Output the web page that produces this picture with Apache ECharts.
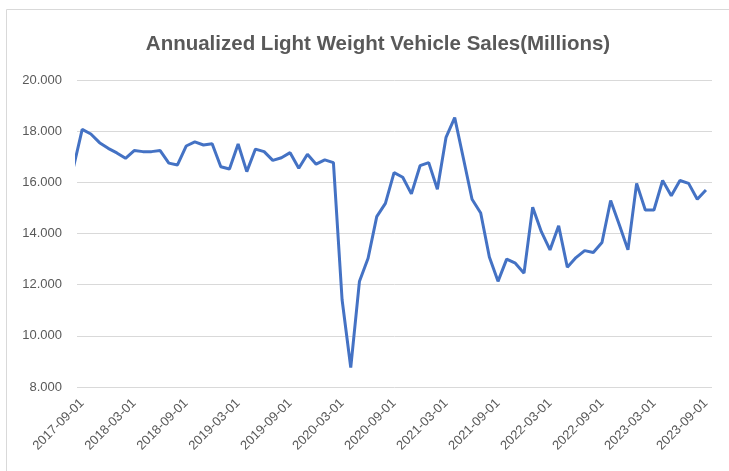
<!DOCTYPE html>
<html>
    <head>
        <title>Annualized Light Weight Vehicle Sales</title>
        <meta charset="UTF-8">
        <script src="https://cdn.jsdelivr.net/npm/echarts@6/dist/echarts.min.js"></script>
        <style>
            html, body { margin: 0; padding: 0; background: #fff; }
        </style>
    </head>
    <body>
        <div id="chart" style="width: 729px; height: 471px;"></div>
        <script>
            // monthly dates, 2017-08 .. 2023-09
            const months = [
                '2017-08-01', '2017-09-01', '2017-10-01', '2017-11-01', '2017-12-01',
                '2018-01-01', '2018-02-01', '2018-03-01', '2018-04-01', '2018-05-01', '2018-06-01',
                '2018-07-01', '2018-08-01', '2018-09-01', '2018-10-01', '2018-11-01', '2018-12-01',
                '2019-01-01', '2019-02-01', '2019-03-01', '2019-04-01', '2019-05-01', '2019-06-01',
                '2019-07-01', '2019-08-01', '2019-09-01', '2019-10-01', '2019-11-01', '2019-12-01',
                '2020-01-01', '2020-02-01', '2020-03-01', '2020-04-01', '2020-05-01', '2020-06-01',
                '2020-07-01', '2020-08-01', '2020-09-01', '2020-10-01', '2020-11-01', '2020-12-01',
                '2021-01-01', '2021-02-01', '2021-03-01', '2021-04-01', '2021-05-01', '2021-06-01',
                '2021-07-01', '2021-08-01', '2021-09-01', '2021-10-01', '2021-11-01', '2021-12-01',
                '2022-01-01', '2022-02-01', '2022-03-01', '2022-04-01', '2022-05-01', '2022-06-01',
                '2022-07-01', '2022-08-01', '2022-09-01', '2022-10-01', '2022-11-01', '2022-12-01',
                '2023-01-01', '2023-02-01', '2023-03-01', '2023-04-01', '2023-05-01', '2023-06-01',
                '2023-07-01', '2023-08-01', '2023-09-01'
            ];
            // millions of vehicles, annualized
            const sales = [
                16.6, 18.07, 17.89, 17.55, 17.33,
                17.15, 16.94, 17.24, 17.2, 17.2, 17.24,
                16.75, 16.68, 17.42, 17.58, 17.46, 17.51,
                16.61, 16.52, 17.5, 16.42, 17.3, 17.2,
                16.86, 16.96, 17.16, 16.55, 17.1, 16.71,
                16.88, 16.77, 11.41, 8.76, 12.12, 13.03,
                14.66, 15.18, 16.38, 16.2, 15.55, 16.65,
                16.77, 15.73, 17.76, 18.53, 16.94, 15.34,
                14.8, 13.08, 12.13, 13.0, 12.84, 12.45,
                15.03, 14.07, 13.36, 14.3, 12.68, 13.06,
                13.33, 13.26, 13.65, 15.29, 14.34, 13.36,
                15.96, 14.92, 14.92, 16.07, 15.48, 16.07,
                15.96, 15.34, 15.7
            ];
            // every sixth month gets a label (March / September)
            const labelIdx = months.map((m, i) => i).filter(i => /-(03|09)-/.test(months[i]));

            const font = 'Liberation Sans';
            const chart = echarts.init(document.getElementById('chart'));
            chart.setOption({
                animation: false,
                title: {
                    text: 'Annualized Light Weight Vehicle Sales(Millions)',
                    left: 373,
                    textAlign: 'center',
                    top: 29,
                    textStyle: { fontFamily: font, fontSize: 20.5, fontWeight: 'bold', color: '#595959' }
                },
                graphic: [{
                    type: 'rect',
                    shape: { x: 6.5, y: 9.5, width: 740, height: 480 },
                    style: { fill: 'none', stroke: '#d9d9d9', lineWidth: 1 },
                    silent: true
                }],
                grid: { left: 77, right: 17, top: 80, bottom: 84 },
                xAxis: {
                    type: 'value',
                    min: 0.4,
                    max: 73.7,
                    axisLine: { show: false },
                    axisTick: { show: false },
                    axisLabel: {
                        customValues: labelIdx,
                        formatter: (v) => months[Math.round(v)],
                        rotate: 45,
                        margin: 14,
                        fontFamily: font,
                        fontSize: 13,
                        color: '#595959'
                    },
                    splitLine: { show: false }
                },
                yAxis: {
                    type: 'value',
                    min: 8,
                    max: 20,
                    interval: 2,
                    axisLine: { show: false },
                    axisTick: { show: false },
                    axisLabel: {
                        formatter: (v) => v.toFixed(3),
                        margin: 15,
                        fontFamily: font,
                        fontSize: 13,
                        color: '#595959'
                    },
                    splitLine: { lineStyle: { color: '#d9d9d9', width: 1 } }
                },
                series: [{
                    name: 'Sales',
                    type: 'line',
                    data: sales.map((v, i) => [i, v]),
                    clip: true,
                    showSymbol: false,
                    symbol: 'none',
                    lineStyle: { color: '#4472c4', width: 3 },
                    itemStyle: { color: '#4472c4' }
                }]
            });
        </script>
    </body>
</html>
